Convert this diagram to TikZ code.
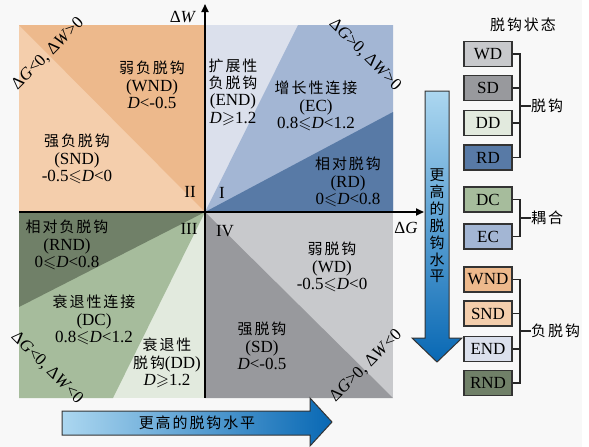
\documentclass[tikz,border=0pt]{standalone}
\usepackage{amssymb}
\usepackage{fontspec}
\setmainfont{Liberation Serif}
\newfontfamily\cjk[Scale=0.88,LetterSpace=13]{Noto Sans CJK SC}
\usetikzlibrary{arrows.meta}
\definecolor{bgc}{RGB}{248,248,248}
\definecolor{wndc}{RGB}{237,185,140}
\definecolor{sndc}{RGB}{244,206,172}
\definecolor{endc}{RGB}{219,224,236}
\definecolor{ecc}{RGB}{163,182,212}
\definecolor{rdc}{RGB}{88,122,166}
\definecolor{rndc}{RGB}{112,128,104}
\definecolor{dcc}{RGB}{166,188,156}
\definecolor{ddc}{RGB}{226,234,222}
\definecolor{wdc}{RGB}{200,201,204}
\definecolor{sdc}{RGB}{152,153,157}
\definecolor{arrL}{RGB}{172,215,240}
\definecolor{arrR}{RGB}{8,104,180}
\newcommand\Dv{\textit{D}}
\tikzset{
 qtxt/.style={align=center, inner sep=0pt, font=\fontsize{17}{17.3}\selectfont},
 lbl/.style={inner sep=0pt, font=\fontsize{17}{17.3}\selectfont},
 legbox/.style={draw=black!80, line width=1.6pt, minimum width=47.5pt, minimum height=25pt, inner sep=0pt, font=\fontsize{17}{17}\selectfont},
 brk/.style={line width=1.3pt, draw=black!85},
 axis/.style={line width=1.8pt, -{Triangle[length=8pt,width=7pt]}},
 bigarrow/.style={draw=black!80, line width=1pt},
}
\begin{document}
\begin{tikzpicture}[x=1pt,y=-1pt]
\useasboundingbox (0,0) rectangle (589,447);
\fill[white] (0,0) rectangle (589,447);
\fill[bgc] (0,0) rectangle (582,447);
% quadrant II
\fill[sndc] (19,25) rectangle (205,212);
\fill[wndc] (19,25) -- (205,25) -- (205,212) -- cycle;
% quadrant I
\fill[endc] (205,25) rectangle (393,212);
\fill[ecc] (298,25) -- (393,25) -- (393,212) -- (205,212) -- cycle;
\fill[rdc] (393,112) -- (393,212) -- (205,212) -- cycle;
% quadrant III
\fill[ddc] (19,212) rectangle (205,398);
\fill[dcc] (19,212) -- (205,212) -- (113,398) -- (19,398) -- cycle;
\fill[rndc] (19,212) -- (205,212) -- (19,307) -- cycle;
% quadrant IV
\fill[wdc] (205,212) rectangle (393,398);
\fill[sdc] (205,212) -- (393,398) -- (205,398) -- cycle;
% axes
\coordinate (Wb) at (205,398); \coordinate (Wt) at (205,4);
\coordinate (Gl) at (19,212); \coordinate (Gr) at (424,212);
\draw[axis] (Wb) -- (Wt);
\draw[axis] (Gl) -- (Gr);
\node[lbl] (dW) at (183,17) {Δ\textit{W}};
\node[lbl] (dG) at (406,228) {Δ\textit{G}};
% roman numerals
\node[lbl] (q2) at (190,192) {II};
\node[lbl] (q1) at (222,193) {I};
\node[lbl] (q3) at (189,229) {III};
\node[lbl] (q4) at (225,231) {IV};
% diagonal labels
\node[lbl, rotate=45] (c2) at (48,54) {Δ\textit{G}<0, Δ\textit{W}>0};
\node[lbl, rotate=-45] (c1) at (365,55) {Δ\textit{G}>0, Δ\textit{W}>0};
\node[lbl, rotate=-45] (c3) at (47,368) {Δ\textit{G}<0, Δ\textit{W}<0};
\node[lbl, rotate=45] (c4) at (366,366) {Δ\textit{G}>0, Δ\textit{W}<0};
% quadrant texts
\node[qtxt] (tWND) at (152,85) {{\cjk 弱负脱钩}\\(WND)\\\Dv<-0.5};
\node[qtxt] (tSND) at (77,159) {{\cjk 强负脱钩}\\(SND)\\-0.5$\leqslant$\Dv<0};
\node[qtxt] (tEND) at (233,92) {{\cjk 扩展性}\\{\cjk 负脱钩}\\(END)\\\Dv$\geqslant$1.2};
\node[qtxt] (tEC) at (316,106) {{\cjk 增长性连接}\\(EC)\\0.8$\leqslant$\Dv<1.2};
\node[qtxt] (tRD) at (348,182) {{\cjk 相对脱钩}\\(RD)\\0$\leqslant$\Dv<0.8};
\node[qtxt] (tRND) at (67,245) {{\cjk 相对负脱钩}\\(RND)\\0$\leqslant$\Dv<0.8};
\node[qtxt] (tDC) at (94,320) {{\cjk 衰退性连接}\\(DC)\\0.8$\leqslant$\Dv<1.2};
\node[qtxt] (tDD) at (167,363) {{\cjk 衰退性}\\{\cjk 脱钩}(DD)\\\Dv$\geqslant$1.2};
\node[qtxt] (tWD) at (332,267) {{\cjk 弱脱钩}\\(WD)\\-0.5$\leqslant$\Dv<0};
\node[qtxt] (tSD) at (262,346) {{\cjk 强脱钩}\\(SD)\\\Dv<-0.5};
% vertical big arrow
\path[bigarrow, top color=arrL, bottom color=arrR] (425,91) -- (449,91) -- (449,338) -- (462,338) -- (437,362) -- (412,338) -- (425,338) -- cycle;
\node[qtxt, font=\fontsize{17}{16.9}\selectfont\cjk] (vtxt) at (437,226) {更\\高\\的\\脱\\钩\\水\\平};
% horizontal big arrow
\path[bigarrow, left color=arrL, right color=arrR] (62,411) -- (310,411) -- (310,398) -- (332,422) -- (310,446) -- (310,435) -- (62,435) -- cycle;
\node[lbl, font=\fontsize{17}{17}\selectfont\cjk] (htxt) at (197,423) {更高的脱钩水平};
% legend
\node[lbl, font=\fontsize{17}{17}\selectfont\cjk] (legt) at (523,25) {脱钩状态};
\node[legbox, fill=wdc] (WD) at (488,54) {WD};
\node[legbox, fill=sdc] (SD) at (488,88) {SD};
\node[legbox, fill=ddc] (DD) at (488,123) {DD};
\node[legbox, fill=rdc] (RD) at (488,157.5) {RD};
\node[legbox, fill=dcc] (DC) at (488,199.5) {DC};
\node[legbox, fill=ecc] (EC) at (488,236.5) {EC};
\node[legbox, fill=wndc] (WND) at (488,279.5) {WND};
\node[legbox, fill=sndc] (SND) at (488,313.5) {SND};
\node[legbox, fill=endc] (END) at (488,349) {END};
\node[legbox, fill=rndc] (RND) at (488,383) {RND};
\coordinate (bx) at (520,0);
\node[lbl, anchor=west, font=\fontsize{17}{17}\selectfont\cjk] (lD) at (531,106) {脱钩};
\node[lbl, anchor=west, font=\fontsize{17}{17}\selectfont\cjk] (lC) at (531,218) {耦合};
\node[lbl, anchor=west, font=\fontsize{17}{17}\selectfont\cjk] (lN) at (531,331) {负脱钩};
\draw[brk] (WD.east) -- (WD.east -| bx) -- (RD.east -| bx) -- (RD.east);
\draw[brk] (SD.east) -- (SD.east -| bx);
\draw[brk] (DD.east) -- (DD.east -| bx);
\draw[brk] (lD.west -| bx) -- (lD.west);
\draw[brk] (DC.east) -- (DC.east -| bx) -- (EC.east -| bx) -- (EC.east);
\draw[brk] (lC.west -| bx) -- (lC.west);
\draw[brk] (WND.east) -- (WND.east -| bx) -- (RND.east -| bx) -- (RND.east);
\draw[brk] (SND.east) -- (SND.east -| bx);
\draw[brk] (END.east) -- (END.east -| bx);
\draw[brk] (lN.west -| bx) -- (lN.west);
\end{tikzpicture}
\end{document}
